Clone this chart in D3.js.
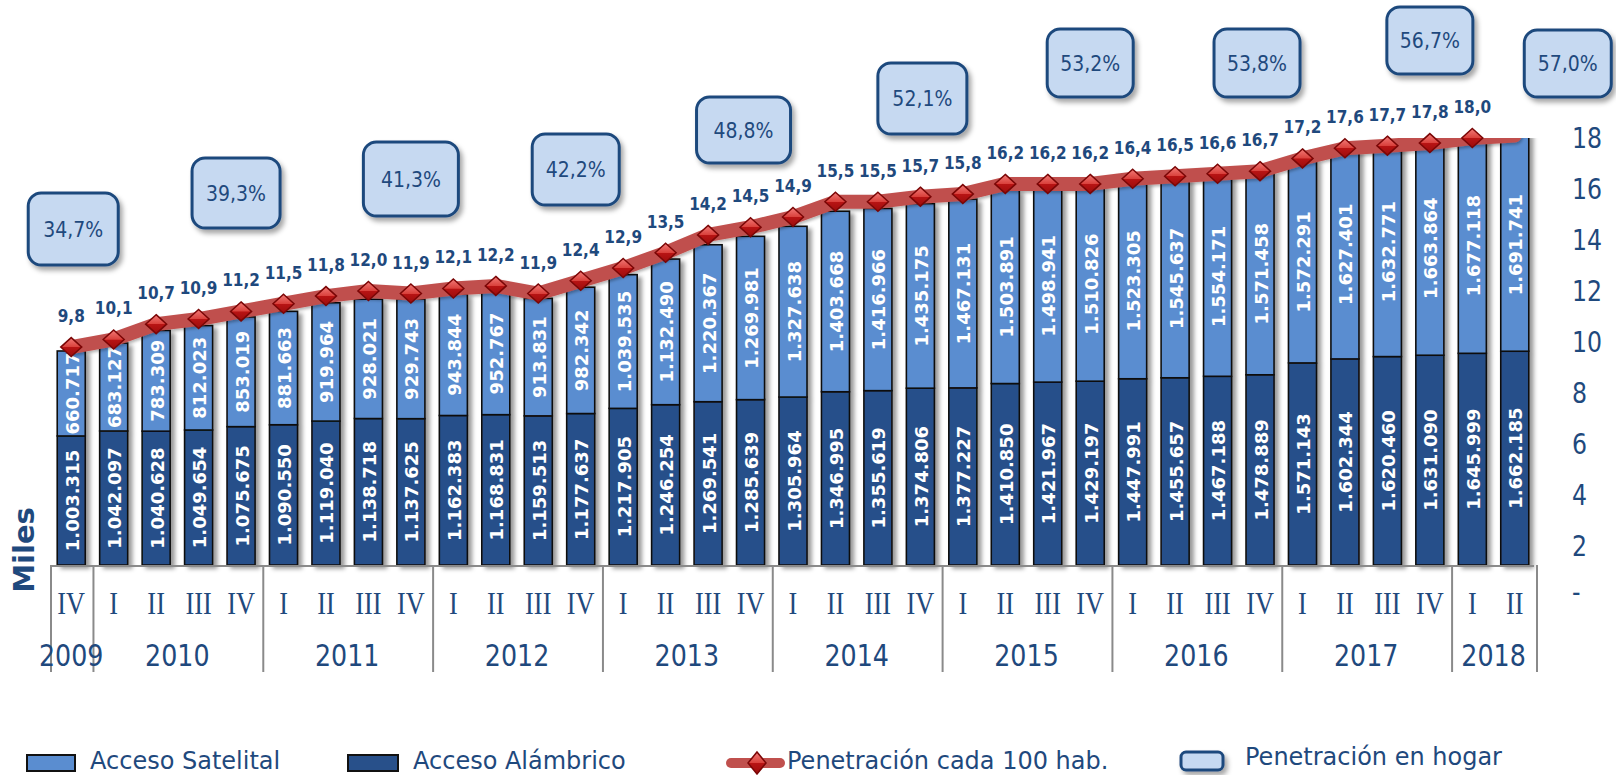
<!DOCTYPE html>
<html lang="es">
<head>
<meta charset="utf-8">
<title>Accesos de TV por suscripción</title>
<script src="https://cdn.jsdelivr.net/npm/d3@7"></script>
<style>
  html, body { margin: 0; padding: 0; background: #ffffff; }
  svg { display: block; }
</style>
</head>
<body>
<svg id="chart" width="1616" height="775"></svg>
<script>
// ---- Datos ----
const anios = ["2009", "2010", "2011", "2012", "2013", "2014", "2015", "2016", "2017", "2018"];
const trimestresPorAnio = [
  ["IV"],
  ["I", "II", "III", "IV"],
  ["I", "II", "III", "IV"],
  ["I", "II", "III", "IV"],
  ["I", "II", "III", "IV"],
  ["I", "II", "III", "IV"],
  ["I", "II", "III", "IV"],
  ["I", "II", "III", "IV"],
  ["I", "II", "III", "IV"],
  ["I", "II"]
];

// Acceso Alámbrico (parte inferior de cada barra)
const accesoAlambrico = [
  1003315,
  1042097, 1040628, 1049654, 1075675,
  1090550, 1119040, 1138718, 1137625,
  1162383, 1168831, 1159513, 1177637,
  1217905, 1246254, 1269541, 1285639,
  1305964, 1346995, 1355619, 1374806,
  1377227, 1410850, 1421967, 1429197,
  1447991, 1455657, 1467188, 1478889,
  1571143, 1602344, 1620460, 1631090,
  1645999, 1662185
];

// Acceso Satelital (parte superior de cada barra)
const accesoSatelital = [
  660717,
  683127, 783309, 812023, 853019,
  881663, 919964, 928021, 929743,
  943844, 952767, 913831, 982342,
  1039535, 1132490, 1220367, 1269981,
  1327638, 1403668, 1416966, 1435175,
  1467131, 1503891, 1498941, 1510826,
  1523305, 1545637, 1554171, 1571458,
  1572291, 1627401, 1632771, 1663864,
  1677118, 1691741
];

// Penetración cada 100 habitantes (el último trimestre no lleva marcador ni etiqueta)
const penetracion100 = [
  9.8,
  10.1, 10.7, 10.9, 11.2,
  11.5, 11.8, 12.0, 11.9,
  12.1, 12.2, 11.9, 12.4,
  12.9, 13.5, 14.2, 14.5,
  14.9, 15.5, 15.5, 15.7,
  15.8, 16.2, 16.2, 16.2,
  16.4, 16.5, 16.6, 16.7,
  17.2, 17.6, 17.7, 17.8,
  18.0, 18.1
];
const puntosConMarcador = 34;

// Penetración en hogar (una por año, en el último trimestre disponible)
const penetracionHogar = [34.7, 39.3, 41.3, 42.2, 48.8, 52.1, 53.2, 53.8, 56.7, 57.0];

const ejeDerechoTicks = [0, 2, 4, 6, 8, 10, 12, 14, 16, 18];

const leyendaTextos = ["Acceso Satelital", "Acceso Alámbrico", "Penetración cada 100 hab.", "Penetración en hogar"];

// ---- Diseño ----
const COLOR_SAT = "#5a8dd0";
const COLOR_ALAM = "#28508a";
const COLOR_LINEA = "#c0504d";
const COLOR_TEXTO = "#1f497d";
const COLOR_CAJA = "#c6d9f1";
const FONT = "'DejaVu Sans', Verdana, sans-serif";
const FONT_SERIF = "'Liberation Serif', 'Times New Roman', serif";

// Posición de cada globo de "Penetración en hogar" respecto a su barra
const cajasHogar = [
  { dx: 2, top: 193, w: 90, h: 72 },
  { dx: -5, top: 158, w: 88, h: 70 },
  { dx: 0, top: 142, w: 95, h: 74 },
  { dx: -5, top: 134, w: 87, h: 71 },
  { dx: -7, top: 97, w: 94, h: 66 },
  { dx: 2, top: 63, w: 89, h: 71 },
  { dx: 0, top: 29, w: 86, h: 68 },
  { dx: -3, top: 29, w: 86, h: 68 },
  { dx: 0, top: 7, w: 86, h: 67 },
  { dx: 53, top: 30, w: 87, h: 67 }
];

const PLOT = { left: 50, right: 1536, top: 138, axisY: 565, bottom: 597 };

// ---- Estructura de categorías ----
const categorias = [];
const inicioAnio = [];
trimestresPorAnio.forEach((qs, ai) => {
  inicioAnio.push(categorias.length);
  qs.forEach(q => categorias.push({ anio: anios[ai], trimestre: q }));
});
const n = categorias.length;
const indiceHogar = inicioAnio.map((s, ai) => s + trimestresPorAnio[ai].length - 1);

// ---- Escalas ----
const x = d3.scaleBand()
  .domain(d3.range(n))
  .range([PLOT.left, PLOT.right])
  .paddingInner(0.34)
  .paddingOuter(0.17);
const cx = i => x(i) + x.bandwidth() / 2;
const gap = (x.step() - x.bandwidth()) / 2;

const yBar = d3.scaleLinear().domain([0, 3320000]).range([PLOT.axisY, PLOT.top]);
const yPen = d3.scaleLinear().domain([0, 18]).range([PLOT.bottom, PLOT.top]);

const fmtMiles = d3.formatLocale({ decimal: ",", thousands: ".", grouping: [3], currency: ["", ""] }).format(",d");
const fmtDec = v => d3.format(".1f")(v).replace(".", ",");

const svg = d3.select("#chart");
const defs = svg.append("defs");

// Sombras y degradados
const fBar = defs.append("filter").attr("id", "sombraBarra").attr("x", "-30%").attr("y", "-10%").attr("width", "180%").attr("height", "130%");
fBar.append("feDropShadow").attr("dx", 4).attr("dy", 3).attr("stdDeviation", 2.2).attr("flood-color", "#000").attr("flood-opacity", 0.4);

const fCaja = defs.append("filter").attr("id", "sombraCaja").attr("x", "-20%").attr("y", "-20%").attr("width", "150%").attr("height", "160%");
fCaja.append("feDropShadow").attr("dx", 3).attr("dy", 4).attr("stdDeviation", 2.5).attr("flood-color", "#000").attr("flood-opacity", 0.35);

const fLinea = defs.append("filter").attr("id", "sombraLinea").attr("x", "-5%").attr("y", "-20%").attr("width", "110%").attr("height", "150%");
fLinea.append("feDropShadow").attr("dx", 1).attr("dy", 2).attr("stdDeviation", 1.5).attr("flood-color", "#000").attr("flood-opacity", 0.3);

const grad = defs.append("linearGradient").attr("id", "gradMarcador").attr("x1", 0).attr("y1", 0).attr("x2", 0).attr("y2", 1);
grad.append("stop").attr("offset", "0%").attr("stop-color", "#f27b78");
grad.append("stop").attr("offset", "50%").attr("stop-color", "#d9403b");
grad.append("stop").attr("offset", "51%").attr("stop-color", "#b81414");
grad.append("stop").attr("offset", "100%").attr("stop-color", "#9c0c0c");

defs.append("clipPath").attr("id", "areaGrafico")
  .append("rect").attr("x", 0).attr("y", PLOT.top).attr("width", 1616).attr("height", 775 - PLOT.top);

// Texto comprimido horizontalmente
function texto(g, tx, ty, str, opts) {
  const sx = opts.sx || 1;
  return g.append("text")
    .attr("transform", `translate(${tx},${ty}) scale(${sx},1)`)
    .attr("text-anchor", opts.anchor || "middle")
    .attr("font-family", opts.family || FONT)
    .attr("font-size", opts.size)
    .attr("font-weight", opts.weight || "normal")
    .attr("fill", opts.fill || COLOR_TEXTO)
    .text(str);
}

// ---- Barras apiladas ----
const gBars = svg.append("g").attr("clip-path", "url(#areaGrafico)");
const barras = gBars.selectAll("g.barra").data(d3.range(n)).join("g").attr("class", "barra")
  .attr("filter", "url(#sombraBarra)");

barras.append("rect")
  .attr("x", i => x(i))
  .attr("width", x.bandwidth())
  .attr("y", i => yBar(accesoAlambrico[i]))
  .attr("height", i => yBar(0) - yBar(accesoAlambrico[i]))
  .attr("fill", COLOR_ALAM)
  .attr("stroke", "#111").attr("stroke-width", 1.6);

barras.append("rect")
  .attr("x", i => x(i))
  .attr("width", x.bandwidth())
  .attr("y", i => yBar(accesoAlambrico[i] + accesoSatelital[i]))
  .attr("height", i => yBar(accesoAlambrico[i]) - yBar(accesoAlambrico[i] + accesoSatelital[i]))
  .attr("fill", COLOR_SAT)
  .attr("stroke", "#111").attr("stroke-width", 1.6);

// Etiquetas de valores dentro de las barras
const gEtq = svg.append("g");
d3.range(n).forEach(i => {
  const yA = (yBar(0) + yBar(accesoAlambrico[i])) / 2;
  const topS = Math.max(yBar(accesoAlambrico[i] + accesoSatelital[i]), PLOT.top);
  const yS = (yBar(accesoAlambrico[i]) + topS) / 2;
  [[yA, accesoAlambrico[i]], [yS, accesoSatelital[i]]].forEach(([yy, v]) => {
    gEtq.append("text")
      .attr("transform", `translate(${cx(i) + 1},${yy}) rotate(-90)`)
      .attr("text-anchor", "middle")
      .attr("dominant-baseline", "central")
      .attr("font-family", FONT)
      .attr("font-weight", "bold")
      .attr("font-size", 18)
      .attr("fill", "#ffffff")
      .text(fmtMiles(v));
  });
});

// ---- Eje de categorías ----
const gCat = svg.append("g");
gCat.append("line")
  .attr("x1", PLOT.left + 1).attr("x2", PLOT.right - 2)
  .attr("y1", PLOT.axisY + 1).attr("y2", PLOT.axisY + 1)
  .attr("stroke", "#8a8a8a").attr("stroke-width", 2);

const separadores = inicioAnio.map(s => x(s) - gap).concat([x(n - 1) + x.bandwidth() + gap]);
gCat.selectAll("line.sep").data(separadores).join("line").attr("class", "sep")
  .attr("x1", d => d + 1).attr("x2", d => d + 1)
  .attr("y1", PLOT.axisY).attr("y2", 672)
  .attr("stroke", "#8a8a8a").attr("stroke-width", 2);

categorias.forEach((c, i) => {
  texto(gCat, cx(i), 614, c.trimestre, { size: 31, sx: 0.85, family: FONT_SERIF });
});
anios.forEach((a, ai) => {
  const s = inicioAnio[ai], e = s + trimestresPorAnio[ai].length - 1;
  texto(gCat, (cx(s) + cx(e)) / 2, 666, a, { size: 29.5, sx: 0.86 });
});

// ---- Eje derecho ----
const gY = svg.append("g").attr("transform", "translate(1572,0)")
  .call(d3.axisRight(yPen).tickValues(ejeDerechoTicks).tickSize(0).tickPadding(0)
    .tickFormat(d => d === 0 ? "-" : d3.format("d")(d)));
gY.select(".domain").remove();
gY.selectAll("text")
  .attr("font-family", FONT)
  .attr("font-size", 27.5)
  .attr("fill", COLOR_TEXTO)
  .attr("transform", "scale(0.86,1)")
  .attr("dy", "0.36em");
gY.selectAll(".tick").filter(d => d === 0).attr("transform", `translate(0,${yPen(0) - 5})`);

// Título del eje
svg.append("text")
  .attr("transform", "translate(24,550) rotate(-90)")
  .attr("text-anchor", "middle")
  .attr("dominant-baseline", "central")
  .attr("font-family", FONT)
  .attr("font-weight", "bold")
  .attr("font-size", 29)
  .attr("fill", COLOR_TEXTO)
  .text("Miles");

// ---- Línea de penetración ----
const linea = d3.line().x((d, i) => cx(i)).y(d => yPen(d));
svg.append("g").attr("clip-path", "url(#areaGrafico)")
  .append("path")
  .datum(penetracion100)
  .attr("d", linea)
  .attr("fill", "none")
  .attr("stroke", COLOR_LINEA)
  .attr("stroke-width", 14)
  .attr("stroke-linejoin", "round")
  .attr("stroke-linecap", "round")
  .attr("filter", "url(#sombraLinea)");

const diamante = (px, py, hw, hh) => `M${px},${py - hh}L${px + hw},${py}L${px},${py + hh}L${px - hw},${py}Z`;
const gMarc = svg.append("g");
penetracion100.slice(0, puntosConMarcador).forEach((v, i) => {
  gMarc.append("path")
    .attr("d", diamante(cx(i), yPen(v), 10.5, 9.5))
    .attr("fill", "url(#gradMarcador)")
    .attr("stroke", "#7a0606").attr("stroke-width", 1.5);
  texto(gMarc, cx(i), yPen(v) - 25, fmtDec(v), { size: 17, sx: 0.9, weight: "bold" });
});

// ---- Globos de penetración en hogar ----
const gHogar = svg.append("g");
penetracionHogar.forEach((v, k) => {
  const b = cajasHogar[k];
  const ccx = cx(indiceHogar[k]) + b.dx;
  gHogar.append("rect")
    .attr("x", ccx - b.w / 2).attr("y", b.top)
    .attr("width", b.w).attr("height", b.h)
    .attr("rx", 13).attr("ry", 13)
    .attr("fill", COLOR_CAJA)
    .attr("stroke", COLOR_TEXTO).attr("stroke-width", 3)
    .attr("filter", "url(#sombraCaja)");
  texto(gHogar, ccx, b.top + b.h / 2 + 7.5, fmtDec(v) + "%", { size: 21, sx: 0.9 });
});

// ---- Leyenda ----
const gLeg = svg.append("g");
gLeg.append("rect").attr("x", 27).attr("y", 755).attr("width", 48).attr("height", 16)
  .attr("fill", COLOR_SAT).attr("stroke", "#111").attr("stroke-width", 2);
texto(gLeg, 90, 768.5, leyendaTextos[0], { size: 25, sx: 0.96, anchor: "start" });

gLeg.append("rect").attr("x", 348).attr("y", 755).attr("width", 50).attr("height", 16)
  .attr("fill", COLOR_ALAM).attr("stroke", "#111").attr("stroke-width", 2);
texto(gLeg, 413, 768.5, leyendaTextos[1], { size: 25, sx: 0.96, anchor: "start" });

gLeg.append("line").attr("x1", 731).attr("x2", 780).attr("y1", 763).attr("y2", 763)
  .attr("stroke", COLOR_LINEA).attr("stroke-width", 10).attr("stroke-linecap", "round");
gLeg.append("path").attr("d", diamante(757, 763, 9, 11))
  .attr("fill", "url(#gradMarcador)").attr("stroke", "#7a0606").attr("stroke-width", 1.5);
texto(gLeg, 787, 768.5, leyendaTextos[2], { size: 25, sx: 0.96, anchor: "start" });

gLeg.append("rect").attr("x", 1181).attr("y", 752).attr("width", 42).attr("height", 18)
  .attr("rx", 5).attr("ry", 5)
  .attr("fill", COLOR_CAJA).attr("stroke", COLOR_TEXTO).attr("stroke-width", 3)
  .attr("filter", "url(#sombraCaja)");
texto(gLeg, 1245, 765, leyendaTextos[3], { size: 25, sx: 0.96, anchor: "start" });
</script>
</body>
</html>
